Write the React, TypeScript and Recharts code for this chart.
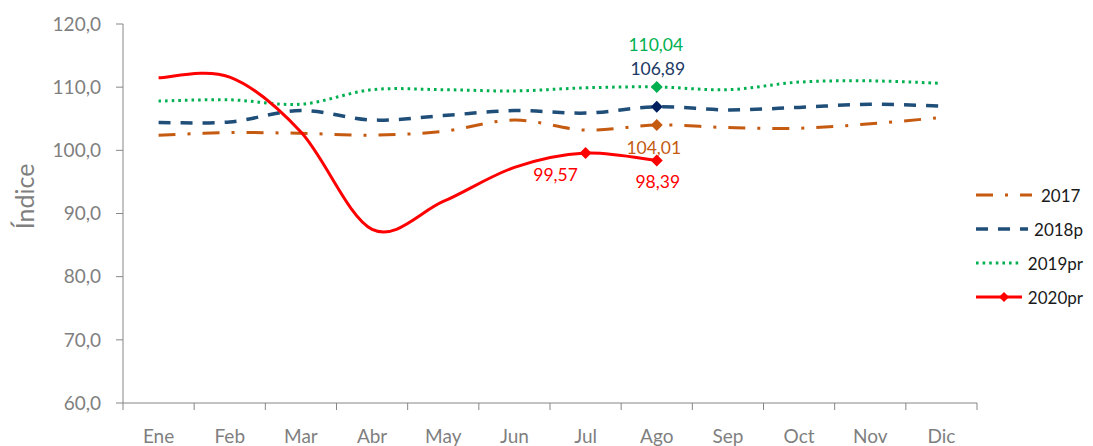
import { LineChart, Line, XAxis, YAxis, Legend, Label } from "recharts";

document.body.style.margin = "0";

const months = ["Ene", "Feb", "Mar", "Abr", "May", "Jun", "Jul", "Ago", "Sep", "Oct", "Nov", "Dic"];
const y2017 = [102.4, 102.8, 102.7, 102.4, 103.0, 104.8, 103.2, 104.01, 103.6, 103.5, 104.2, 105.2];
const y2018p = [104.4, 104.5, 106.3, 104.8, 105.5, 106.3, 105.9, 106.89, 106.4, 106.8, 107.3, 107.0];
const y2019pr = [107.8, 108.0, 107.3, 109.6, 109.6, 109.4, 109.9, 110.04, 109.6, 110.8, 111.0, 110.6];
const y2020pr = [111.5, 111.6, 102.9, 87.5, 91.9, 97.3, 99.57, 98.39, null, null, null, null];
const yTicks = [60, 70, 80, 90, 100, 110, 120];

// months that get a marker + value label
const marked2017 = ["Ago"];
const marked2018p = ["Ago"];
const marked2019pr = ["Ago"];
const marked2020pr = ["Jul", "Ago"];

const data = months.map((m, i) => ({
  month: m,
  y2017: y2017[i],
  y2018p: y2018p[i],
  y2019pr: y2019pr[i],
  y2020pr: y2020pr[i],
}));

const FONT = "Lato, 'Open Sans', sans-serif";
const AXIS_GREY = "#868686";
const TEXT_GREY = "#7f7f7f";

const series = [
  { key: "y2017", name: "2017", color: "#c55a11", marker: "#c55a11", label: "#c55a11", dash: "17 12 3 12", width: 3, marked: marked2017, labelPos: { Ago: [-3, 22] } },
  { key: "y2018p", name: "2018p", color: "#1f4e79", marker: "#002060", label: "#203864", dash: "12 10", width: 3.5, marked: marked2018p, labelPos: { Ago: [1, -38] } },
  { key: "y2019pr", name: "2019pr", color: "#00b050", marker: "#00b050", label: "#00b050", dash: "2.6 4", width: 3, marked: marked2019pr, labelPos: { Ago: [-1, -42] } },
  { key: "y2020pr", name: "2020pr", color: "#ff0000", marker: "#ff0000", label: "#ff0000", dash: undefined, width: 3, marked: marked2020pr, labelPos: { Jul: [-30, 21], Ago: [1, 21] } },
];

const fmt = (v: number, d: number) => v.toFixed(d).replace(".", ",");

// Excel-style smoothing (Catmull-Rom as cubic bezier)
const excelCurve: any = (context: any) => {
  let pts: number[][] = [];
  return {
    areaStart() {},
    areaEnd() {},
    lineStart() {
      pts = [];
    },
    lineEnd() {
      if (!pts.length) return;
      context.moveTo(pts[0][0], pts[0][1]);
      for (let i = 0; i < pts.length - 1; i++) {
        const p0 = pts[i - 1] || pts[i];
        const p1 = pts[i];
        const p2 = pts[i + 1];
        const p3 = pts[i + 2] || p2;
        context.bezierCurveTo(
          p1[0] + (p2[0] - p0[0]) / 6,
          p1[1] + (p2[1] - p0[1]) / 6,
          p2[0] - (p3[0] - p1[0]) / 6,
          p2[1] - (p3[1] - p1[1]) / 6,
          p2[0],
          p2[1]
        );
      }
    },
    point(x: number, y: number) {
      pts.push([+x, +y]);
    },
  };
};

function Diamond({ cx, cy, r, fill }: { cx: number; cy: number; r: number; fill: string }) {
  return <path d={`M${cx},${cy - r}L${cx + r},${cy}L${cx},${cy + r}L${cx - r},${cy}Z`} fill={fill} />;
}

function makeDot(s: (typeof series)[number]) {
  return (props: any) => {
    const { cx, cy, payload, value, index } = props;
    if (cx == null || cy == null || value == null || !s.marked.includes(payload.month)) {
      return <g key={`${s.key}-${index}`} />;
    }
    const [dx, dy] = (s.labelPos as any)[payload.month] || [0, -20];
    return (
      <g key={`${s.key}-${index}`}>
        <Diamond cx={cx} cy={cy} r={6} fill={s.marker} />
        <text
          x={cx + dx}
          y={cy + dy}
          textAnchor="middle"
          dominantBaseline="central"
          fill={s.label}
          fontSize={17.5}
          fontFamily={FONT}
        >
          {fmt(value, 2)}
        </text>
      </g>
    );
  };
}

function MonthTick(props: any) {
  const { x, y, payload, width, index } = props;
  const step = width / months.length;
  return (
    <g>
      <line x1={x - step / 2} x2={x - step / 2} y1={y - 8} y2={y - 1} stroke={AXIS_GREY} />
      {index === months.length - 1 && (
        <line x1={x + step / 2} x2={x + step / 2} y1={y - 8} y2={y - 1} stroke={AXIS_GREY} />
      )}
      <text x={x} y={y + 32} textAnchor="middle" fill={TEXT_GREY} fontSize={19} fontFamily={FONT}>
        {payload.value}
      </text>
    </g>
  );
}

function LegendBox() {
  return (
    <div style={{ fontFamily: FONT, fontSize: 17, color: "#1a1a1a" }}>
      {series.map((s) => (
        <div key={s.key} style={{ display: "flex", alignItems: "center", height: 34 }}>
          <svg width={62} height={14}>
            <line x1={3} x2={59} y1={7} y2={7} stroke={s.color} strokeWidth={s.width} strokeDasharray={s.dash} />
            {s.key === "y2020pr" && <Diamond cx={31} cy={7} r={5} fill={s.marker} />}
          </svg>
          <span style={{ marginLeft: 6 }}>{s.name}</span>
        </div>
      ))}
    </div>
  );
}

export default function App() {
  return (
    <div style={{ width: 1093, height: 446, background: "#fff" }}>
      <LineChart width={1093} height={446} data={data} margin={{ top: 24, right: 6, bottom: 0, left: 0 }}>
        <XAxis
          dataKey="month"
          scale="band"
          height={43}
          stroke={AXIS_GREY}
          tickLine={false}
          tick={<MonthTick />}
          interval={0}
        />
        <YAxis
          width={123}
          domain={[60, 120]}
          ticks={yTicks}
          tickFormatter={(v: number) => fmt(v, 1)}
          stroke={AXIS_GREY}
          tickSize={7}
          tickMargin={15}
          tick={{ fill: TEXT_GREY, fontSize: 19, fontFamily: FONT }}
          interval={0}
        >
          <Label
            content={({ viewBox }: any) => (
              <text
                x={viewBox.x + 24}
                y={viewBox.y + viewBox.height / 2 - 17}
                transform={`rotate(-90 ${viewBox.x + 24} ${viewBox.y + viewBox.height / 2 - 17})`}
                textAnchor="middle"
                dominantBaseline="central"
                fill={TEXT_GREY}
                fontSize={25}
                fontFamily={FONT}
              >
                Índice
              </text>
            )}
          />
        </YAxis>
        <Legend
          layout="vertical"
          align="right"
          verticalAlign="middle"
          content={<LegendBox />}
          wrapperStyle={{ width: 110, left: 973, top: 178 }}
        />
        {series.map((s) => (
          <Line
            key={s.key}
            dataKey={s.key}
            name={s.name}
            type={excelCurve}
            stroke={s.color}
            strokeWidth={s.width}
            strokeDasharray={s.dash}
            dot={makeDot(s)}
            activeDot={false}
            isAnimationActive={false}
          />
        ))}
      </LineChart>
    </div>
  );
}
